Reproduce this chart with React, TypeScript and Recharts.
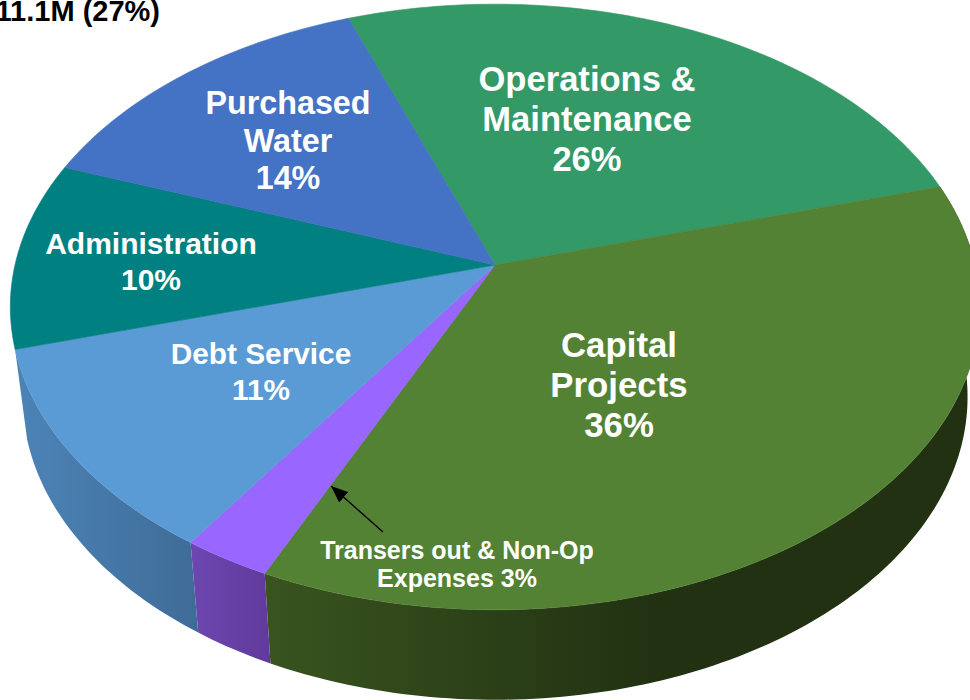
import React from "react";
import { PieChart, Pie } from "recharts";

const categories = [
  "Operations & Maintenance",
  "Capital Projects",
  "Transfers out & Non-Op Expenses",
  "Debt Service",
  "Administration",
  "Purchased Water",
];
const shares = [26.2, 36.3, 2.6, 11.1, 10, 13.8];
const topColors = ["#339966", "#548235", "#9966ff", "#5b9bd5", "#008080", "#4472c4"];
const wallLight = ["#226644", "#39541f", "#6d47b0", "#4c84b8", "#005555", "#2e4c85"];
const wallDark = ["#1a4d33", "#213112", "#603a9b", "#3f6c97", "#004040", "#233a66"];
const wallDarkAt = [100, 55, 100, 100, 100, 100];

// label text is separate from the slice names because the source wraps it by hand
const labelLines = [
  ["Operations &", "Maintenance", "26%"],
  ["Capital", "Projects", "36%"],
  ["Transers out & Non-Op", "Expenses 3%"],
  ["Debt Service", "11%"],
  ["Administration", "10%"],
  ["Purchased", "Water", "14%"],
];
const labelX = [587, 619, 457, 261, 151, 288];
const labelY = [91, 357, 559, 364, 254, 114];
const labelSize = [34.6, 34.8, 25, 29.8, 30, 32.3];
const labelGap = [40, 40, 28, 36, 36, 37.5];

const rows = categories.map((name, i) => ({
  name,
  value: shares[i],
  top: topColors[i],
  wall: `url(#wall-${i})`,
}));

const FONT = "'Liberation Sans', Arial, sans-serif";
const CX = 495;
const CY = 265;
const RADIUS = 297;
const WIDE = 480 / 297; // horizontal stretch of the disc
const TILT = 0.1386; // perspective, near edge bigger than far edge
const DEPTH = 90;
const BOTTOM_SHRINK = 0.975;

// angle in recharts degrees -> point on the tilted disc
function project(angle: number, cx: number, cy: number, r: number) {
  const rad = (angle * Math.PI) / 180;
  const u = Math.cos(rad);
  const v = -Math.sin(rad);
  const w = 1 - TILT * v;
  return { x: cx + (r * WIDE * u) / w, y: cy + (r * v) / w };
}

function arc(start: number, end: number, cx: number, cy: number, r: number) {
  const steps = Math.max(2, Math.ceil(Math.abs(end - start)));
  const pts = [];
  for (let i = 0; i <= steps; i++) {
    pts.push(project(start + ((end - start) * i) / steps, cx, cy, r));
  }
  return pts;
}

const toPath = (pts: { x: number; y: number }[]) =>
  "M" + pts.map((p) => `${p.x.toFixed(2)},${p.y.toFixed(2)}`).join("L") + "Z";

function TopSlice(props: any) {
  const { cx, cy, outerRadius, startAngle, endAngle, payload } = props;
  const pts = [{ x: cx, y: cy }, ...arc(startAngle, endAngle, cx, cy, outerRadius)];
  return <path d={toPath(pts)} fill={payload.top} stroke={payload.top} strokeWidth={0.6} />;
}

function WallSlice(props: any) {
  const { cx, cy, outerRadius, startAngle, endAngle, payload } = props;
  // slices on the far half have no visible side
  const mid = (((startAngle + endAngle) / 2) * Math.PI) / 180;
  if (Math.sin(mid) >= 0) return <g />;
  const upper = arc(startAngle, endAngle, cx, cy, outerRadius);
  const lower = upper
    .map((p) => ({ x: cx + (p.x - cx) * BOTTOM_SHRINK, y: p.y + DEPTH }))
    .reverse();
  return <path d={toPath([...upper, ...lower])} fill={payload.wall} />;
}

function renderLabel(props: any) {
  const i = props.index;
  return (
    <g key={i}>
      <text
        x={labelX[i]}
        y={labelY[i]}
        textAnchor="middle"
        fontFamily={FONT}
        fontWeight="bold"
        fontSize={labelSize[i]}
        fill="#ffffff"
      >
        {labelLines[i].map((line, n) => (
          <tspan key={n} x={labelX[i]} y={labelY[i] + n * labelGap[i]}>
            {line}
          </tspan>
        ))}
      </text>
      {/* the small slice gets a pointer from its label; has to sit in this layer to stay above the slices */}
      {i === 2 && (
        <line x1={383} y1={532} x2={331} y2={486} stroke="#000" strokeWidth={1.4} markerEnd="url(#arrowHead)" />
      )}
    </g>
  );
}

export default function App() {
  return (
    <div style={{ position: "absolute", left: 0, top: 0, width: 970, height: 700, background: "#fff" }}>
      <PieChart width={970} height={700} margin={{ top: 0, right: 0, bottom: 0, left: 0 }}>
        <defs>
          {rows.map((_, i) => (
            <linearGradient key={i} id={`wall-${i}`} x1="0" y1="0" x2="1" y2="0">
              <stop offset="0%" stopColor={wallLight[i]} />
              <stop offset={`${wallDarkAt[i]}%`} stopColor={wallDark[i]} />
            </linearGradient>
          ))}
          <marker id="arrowHead" markerUnits="userSpaceOnUse" markerWidth="18" markerHeight="14" refX="17" refY="7" orient="auto">
            <path d="M0,0L17,7L0,14Z" fill="#000" />
          </marker>
        </defs>
        <Pie
          data={rows}
          dataKey="value"
          cx={CX}
          cy={CY}
          outerRadius={RADIUS}
          startAngle={110.2}
          endAngle={-249.8}
          stroke="none"
          shape={WallSlice}
          isAnimationActive={false}
        />
        <Pie
          data={rows}
          dataKey="value"
          cx={CX}
          cy={CY}
          outerRadius={RADIUS}
          startAngle={110.2}
          endAngle={-249.8}
          stroke="none"
          shape={TopSlice}
          label={renderLabel}
          labelLine={false}
          isAnimationActive={false}
        />
        <text x={160} y={21} textAnchor="end" fontFamily={FONT} fontWeight="bold" fontSize={29} fill="#000">
          11.1M (27%)
        </text>
      </PieChart>
    </div>
  );
}
